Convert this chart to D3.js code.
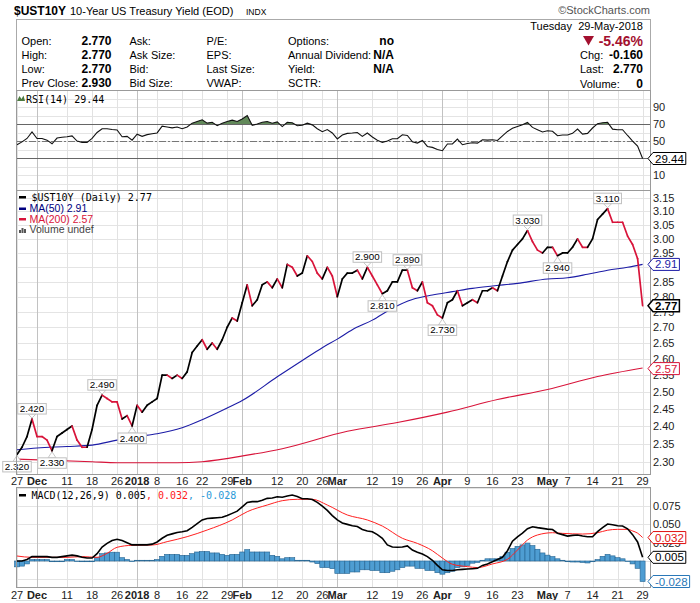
<!DOCTYPE html>
<html>
<head>
<meta charset="utf-8">
<script src="https://cdn.jsdelivr.net/npm/d3@7"></script>
<style>
body { margin: 0; background: #fff; }
svg { display: block; }
</style>
</head>
<body>
<svg id="chart" width="700" height="603"></svg>
<script>
// trading days, Nov 27 2017 .. May 29 2018
const dates = [
  '11-27','11-28','11-29','11-30','12-01','12-04','12-05','12-06','12-07','12-08',
  '12-11','12-12','12-13','12-14','12-15','12-18','12-19','12-20','12-21','12-22',
  '12-26','12-27','12-28','12-29','01-02','01-03','01-04','01-05','01-08','01-09',
  '01-10','01-11','01-12','01-16','01-17','01-18','01-19','01-22','01-23','01-24',
  '01-25','01-26','01-29','01-30','01-31','02-01','02-02','02-05','02-06','02-07',
  '02-08','02-09','02-12','02-13','02-14','02-15','02-16','02-20','02-21','02-22',
  '02-23','02-26','02-27','02-28','03-01','03-02','03-05','03-06','03-07','03-08',
  '03-09','03-12','03-13','03-14','03-15','03-16','03-19','03-20','03-21','03-22',
  '03-23','03-26','03-27','03-28','03-29','04-02','04-03','04-04','04-05','04-06',
  '04-09','04-10','04-11','04-12','04-13','04-16','04-17','04-18','04-19','04-20',
  '04-23','04-24','04-25','04-26','04-27','04-30','05-01','05-02','05-03','05-04',
  '05-07','05-08','05-09','05-10','05-11','05-14','05-15','05-16','05-17','05-18',
  '05-21','05-22','05-23','05-24','05-25','05-29'
];

const close = [
  2.32,2.34,2.37,2.42,2.37,2.37,2.36,2.33,2.37,2.38,
  2.39,2.40,2.36,2.34,2.34,2.39,2.46,2.49,2.48,2.47,
  2.47,2.42,2.43,2.40,2.46,2.44,2.46,2.47,2.48,2.55,
  2.55,2.54,2.55,2.54,2.56,2.62,2.64,2.66,2.63,2.65,
  2.63,2.66,2.70,2.73,2.72,2.78,2.84,2.77,2.79,2.84,
  2.85,2.83,2.86,2.83,2.91,2.90,2.87,2.88,2.94,2.92,
  2.88,2.86,2.90,2.87,2.80,2.86,2.88,2.88,2.89,2.86,
  2.90,2.87,2.84,2.81,2.82,2.85,2.85,2.89,2.89,2.83,
  2.82,2.85,2.78,2.77,2.74,2.73,2.78,2.79,2.82,2.77,
  2.78,2.79,2.78,2.82,2.82,2.83,2.82,2.87,2.92,2.96,
  2.98,3.00,3.03,2.99,2.96,2.95,2.97,2.97,2.94,2.95,
  2.95,2.97,3.00,2.97,2.97,3.00,3.07,3.09,3.11,3.06,
  3.06,3.06,3.01,2.98,2.93,2.77
];

const ma50Dates = ['11-27','12-01','12-11','12-18','12-26','01-02','01-08','01-16','01-22','01-29',
  '02-01','02-12','02-20','02-26','03-01','03-06','03-12','03-16','03-22','03-28',
  '04-04','04-10','04-16','04-23','05-01','05-07','05-11','05-17','05-23','05-29'];
const ma50 = [2.333,2.338,2.342,2.346,2.360,2.370,2.378,2.395,2.418,2.452,
  2.474,2.545,2.595,2.635,2.662,2.692,2.723,2.762,2.791,2.806,
  2.817,2.828,2.836,2.845,2.860,2.864,2.876,2.890,2.900,2.910];

const ma200Dates = ['11-27','12-18','12-26','01-12','01-22','02-02','02-13','03-05','03-19','04-03',
  '04-17','05-01','05-15','05-29'];
const ma200 = [2.307,2.300,2.297,2.297,2.300,2.318,2.336,2.385,2.410,2.440,
  2.477,2.507,2.546,2.572];

const rsi = [
  45.6,49,53,60.6,53,53,51,46.8,53.5,54.5,
  55,56,50,48.4,48.4,53,60,64.5,64.5,63.5,
  63,55,55.5,51,58,55.5,57.5,58.5,59.5,67.5,
  66.5,65.5,66.5,64.5,66.5,71,73,75,71,72,
  68,71,73,74.5,73,76,80,68.5,70,72,
  73,71,72.5,67,72,71.5,68,68.5,71,69,
  64.5,61,63.5,59.5,52.5,57,59,59.4,60,55.4,
  59.4,54.7,51,48.4,50,52.7,52.7,57.4,56.6,49,
  47.6,50.7,43.6,42.5,40,38.6,46.5,46.5,52.3,45.6,
  47,48,47.5,51.5,51,51.5,50.7,56,61.3,65,
  67,69,71.9,66,63.3,60.6,62,61.5,56.2,57,
  57,59,64.1,58.2,59,65.3,70.4,71.5,72,64,
  63.3,63.3,56.5,50,44,29.44
];

const macd = [
  0.000,0.000,0.002,0.006,0.006,0.006,0.006,0.005,0.005,0.006,
  0.007,0.008,0.007,0.005,0.004,0.004,0.010,0.019,0.024,0.028,
  0.0296,0.028,0.025,0.022,0.022,0.022,0.022,0.023,0.026,0.031,
  0.035,0.037,0.039,0.040,0.0414,0.046,0.051,0.056,0.058,0.0585,
  0.059,0.0596,0.062,0.065,0.068,0.074,0.080,0.081,0.081,0.083,
  0.0855,0.086,0.0877,0.087,0.0887,0.090,0.088,0.085,0.085,0.084,
  0.080,0.075,0.069,0.062,0.056,0.052,0.050,0.048,0.047,0.043,
  0.041,0.040,0.036,0.031,0.022,0.019,0.0187,0.019,0.0205,0.015,
  0.012,0.0095,0.006,0.001,-0.006,-0.012,-0.013,-0.013,-0.012,-0.0114,
  -0.011,-0.0105,-0.010,-0.006,-0.004,-0.001,0.002,0.005,0.014,0.027,
  0.033,0.038,0.044,0.0468,0.0455,0.0445,0.0435,0.043,0.038,0.036,
  0.034,0.035,0.0355,0.034,0.033,0.033,0.040,0.0455,0.0505,0.0495,
  0.048,0.0477,0.044,0.036,0.026,0.005
];

const signalDates = ['11-27','11-30','12-06','12-11','12-14','12-19','12-21','12-26','12-29','01-05',
  '01-10','01-17','01-23','01-30','02-02','02-08','02-13','02-16','02-22','02-27',
  '03-05','03-09','03-14','03-20','03-23','03-28','04-02','04-04','04-09','04-11',
  '04-16','04-19','04-23','04-25','04-27','05-02','05-04','05-10','05-15','05-17',
  '05-21','05-23','05-24','05-25','05-29'];
const signal = [0.0068,0.005,0.005,0.005,0.006,0.005,0.0105,0.0187,0.0214,0.0218,
  0.0264,0.0332,0.0423,0.056,0.0673,0.0764,0.0823,0.0842,0.0842,0.0764,
  0.0628,0.056,0.0477,0.031,0.024,0.014,0.004,-0.0045,-0.0077,-0.009,
  -0.004,0.0023,0.015,0.0286,0.0355,0.0386,0.0377,0.0368,0.0386,0.042,
  0.0432,0.0432,0.041,0.038,0.032];

const hist = [
  -0.008,-0.007,-0.004,0.002,0.002,0.002,0.002,-0.001,-0.001,-0.001,
  0.002,0.002,0.000,-0.001,-0.001,-0.001,0.0045,0.010,0.011,0.012,
  0.012,0.0045,0.002,0.000,0.001,0.001,0.001,0.001,0.002,0.0064,
  0.009,0.009,0.009,0.0077,0.0077,0.010,0.0123,0.013,0.013,0.011,
  0.011,0.009,0.0077,0.009,0.009,0.0123,0.0155,0.0123,0.0123,0.0123,
  0.0123,0.0077,0.0064,0.003,0.0045,0.0045,0.001,0.001,0.001,-0.0014,
  -0.0036,-0.009,-0.009,-0.0105,-0.017,-0.017,-0.017,-0.015,-0.015,-0.012,
  -0.012,-0.013,-0.013,-0.016,-0.016,-0.014,-0.012,-0.009,-0.007,-0.007,
  -0.010,-0.010,-0.013,-0.013,-0.016,-0.018,-0.016,-0.014,-0.009,-0.008,
  -0.006,-0.003,-0.002,0.001,0.003,0.003,0.003,0.006,0.012,0.017,
  0.020,0.022,0.0245,0.021,0.016,0.011,0.008,0.006,0.003,0.001,
  -0.001,-0.0014,-0.0014,-0.002,-0.0027,-0.001,0.002,0.0064,0.009,0.007,
  0.0045,0.003,0.000,-0.004,-0.010,-0.028
];

// annotated turning points
const noteDates = ['11-27','11-30','12-06','12-20','12-29','03-09','03-14','03-21','04-02','04-25','05-03','05-17'];
const noteSide  = ['below','above','below','above','below','above','below','above','below','above','below','above'];

const xTickDates  = ['11-27','12-01','12-11','12-18','12-26','01-02','01-08','01-16','01-22','01-29','02-01','02-12','02-20','02-26',
  '03-01','03-12','03-19','03-26','04-02','04-09','04-16','04-23','05-01','05-07','05-14','05-21','05-29'];
const xTickLabels = ['27','Dec','11','18','26','2018','8','16','22','29','Feb','12','20','26',
  'Mar','12','19','26','Apr','9','16','23','May','7','14','21','29'];
const xTickMajor  = ['Dec','2018','Feb','Mar','Apr','May'];

const priceTicks = [2.30,2.35,2.40,2.45,2.50,2.55,2.60,2.65,2.70,2.75,2.80,2.85,2.90,2.95,3.00,3.05,3.10,3.15];
const rsiGrid = [0,10,20,30,40,50,60,70,80,90,100];
const rsiTicks = [90,70,50,30,10];
const macdGrid = [-0.025,0,0.025,0.05,0.075,0.1];
const macdTicks = [0.075,0.05,0.025,0];

const font = 'Arial, "Liberation Sans", sans-serif';
const mono = '"DejaVu Sans Mono", monospace';
const red = '#d8143a';
const blue = '#1c1ca6';
const L = 16, R = 650;

const svg = d3.select('#chart').attr('font-family', font);

const x = d3.scalePoint().domain(dates).range([17, 642.6]);
const rsiP = {top: 90, bottom: 190};
const mainP = {top: 190, bottom: 474};
const macdP = {top: 487, bottom: 587};
const yRsi = d3.scaleLinear().domain([-7.6, 110]).range([rsiP.bottom, rsiP.top]);
const yPx = d3.scaleLog().domain([2.2665, 3.18]).range([mainP.bottom, mainP.top]);
const yMacd = d3.scaleLinear().domain([-0.0355, 0.101]).range([macdP.bottom, macdP.top]);

function grid(p, y, levels) {
  const g = svg.append('g').attr('shape-rendering', 'crispEdges');
  g.selectAll('line.h').data(levels.filter(v => y(v) > p.top && y(v) < p.bottom)).join('line')
    .attr('class', 'h')
    .attr('x1', L).attr('x2', R)
    .attr('y1', d => Math.round(y(d)) + 0.5).attr('y2', d => Math.round(y(d)) + 0.5)
    .attr('stroke', '#e4e4e4');
  g.selectAll('line.v').data(xTickDates).join('line')
    .attr('class', 'v')
    .attr('x1', d => Math.round(x(d)) + 0.5).attr('x2', d => Math.round(x(d)) + 0.5)
    .attr('y1', p.top).attr('y2', p.bottom)
    .attr('stroke', (d, i) => xTickMajor.includes(xTickLabels[i]) ? '#c2c2c2' : '#e2e2e2');
}

function frame(p) {
  svg.append('rect')
    .attr('x', L + 0.5).attr('y', p.top + 0.5)
    .attr('width', R - L).attr('height', p.bottom - p.top)
    .attr('fill', 'none').attr('stroke', '#9a9a9a')
    .attr('shape-rendering', 'crispEdges');
}

// axis labels; the ones sitting right under a value tag are covered, so leave them out
function axisLabels(y, ticks, fmt, tagVals) {
  const shown = ticks.filter(t => !tagVals.some(v => Math.abs(y(t) - y(v)) < 5));
  svg.append('g').selectAll('text').data(shown).join('text')
    .attr('x', 653).attr('y', d => y(d) + 4)
    .attr('font-size', 11).attr('fill', '#222')
    .text(fmt);
}

function tag(yv, txt, color, bold) {
  const g = svg.append('g');
  const t = g.append('text').attr('x', 655).attr('y', yv + 4)
    .attr('font-size', 11.5).attr('fill', color)
    .attr('font-weight', bold ? 'bold' : 'normal').text(txt);
  const w = t.node().getComputedTextLength() + 4;
  g.insert('path', 'text')
    .attr('d', `M648,${yv} L653,${yv - 6} L${653 + w},${yv - 6} L${653 + w},${yv + 6} L653,${yv + 6} Z`)
    .attr('fill', '#fff').attr('stroke', color).attr('stroke-width', bold ? 1.5 : 1);
}

function xLabels(yBase) {
  svg.append('g').selectAll('text').data(xTickDates).join('text')
    .attr('x', d => x(d)).attr('y', yBase)
    .attr('text-anchor', 'middle').attr('font-size', 11).attr('fill', '#222')
    .attr('font-weight', (d, i) => xTickMajor.includes(xTickLabels[i]) ? 'bold' : 'normal')
    .text((d, i) => xTickLabels[i]);
}

// ---------- header ----------
const hdr = svg.append('g');
hdr.append('text').attr('x', 14).attr('y', 15).attr('font-size', 12).attr('font-weight', 'bold').text('$UST10Y');
hdr.append('text').attr('x', 70).attr('y', 15).attr('font-size', 11).text('10-Year US Treasury Yield (EOD)');
hdr.append('text').attr('x', 246).attr('y', 15).attr('font-size', 8.5).text('INDX');
hdr.append('text').attr('x', 650).attr('y', 14).attr('text-anchor', 'end').attr('font-size', 11).attr('fill', '#555').text('\u00A9StockCharts.com');
hdr.append('rect').attr('x', L + 0.5).attr('y', 19.5).attr('width', R - L).attr('height', 70.5)
  .attr('fill', 'none').attr('stroke', '#aaa').attr('shape-rendering', 'crispEdges');

const infoLabels = [
  ['Open:', 'High:', 'Low:', 'Prev Close:'],
  ['Ask:', 'Ask Size:', 'Bid:', 'Bid Size:'],
  ['P/E:', 'EPS:', 'Last Size:', 'VWAP:'],
  ['Options:', 'Annual Dividend:', 'Yield:', 'SCTR:']
];
const infoValues = [['2.770', '2.770', '2.770', '2.930'], [], [], ['no', 'N/A', 'N/A', '']];
const colX = [21.5, 129.5, 206.5, 288];
const valX = [111.5, 0, 0, 394];
const rowY = [45, 59, 73, 87];
infoLabels.forEach((col, c) => {
  col.forEach((lab, r) => {
    hdr.append('text').attr('x', colX[c]).attr('y', rowY[r]).attr('font-size', 11).text(lab);
    const v = infoValues[c][r];
    if (v) hdr.append('text').attr('x', valX[c]).attr('y', rowY[r]).attr('text-anchor', 'end')
      .attr('font-size', 12).attr('font-weight', 'bold').text(v);
  });
});
hdr.append('text').attr('x', 572).attr('y', 29.5).attr('text-anchor', 'end').attr('font-size', 11).text('Tuesday');
hdr.append('text').attr('x', 643).attr('y', 29.5).attr('text-anchor', 'end').attr('font-size', 11).text('29-May-2018');
hdr.append('path').attr('d', 'M583,36 L594,36 L588.5,45.5 Z').attr('fill', '#a3102f');
hdr.append('text').attr('x', 643).attr('y', 46).attr('text-anchor', 'end').attr('font-size', 14)
  .attr('font-weight', 'bold').attr('fill', '#a3102f').text('-5.46%');
[['Chg:', '-0.160', 58.5], ['Last:', '2.770', 73], ['Volume:', '0', 87.5]].forEach(([a, b, yy]) => {
  hdr.append('text').attr('x', 580).attr('y', yy).attr('font-size', 11).text(a);
  hdr.append('text').attr('x', 643).attr('y', yy).attr('text-anchor', 'end').attr('font-size', 12)
    .attr('font-weight', 'bold').text(b);
});

// ---------- RSI panel ----------
grid(rsiP, yRsi, rsiGrid);
svg.append('clipPath').attr('id', 'ob').append('rect')
  .attr('x', L).attr('y', rsiP.top).attr('width', R - L).attr('height', yRsi(70) - rsiP.top);
svg.append('clipPath').attr('id', 'os').append('rect')
  .attr('x', L).attr('y', yRsi(30)).attr('width', R - L).attr('height', rsiP.bottom - yRsi(30));
const rsiX = (d, i) => x(dates[i]);
svg.append('path').datum(rsi).attr('clip-path', 'url(#ob)')
  .attr('d', d3.area().x(rsiX).y0(yRsi(70)).y1(d => yRsi(d)))
  .attr('fill', '#62895a');
svg.append('path').datum(rsi).attr('clip-path', 'url(#os)')
  .attr('d', d3.area().x(rsiX).y0(yRsi(30)).y1(d => yRsi(d)))
  .attr('fill', '#c0504d');
[70, 30].forEach(v => svg.append('line').attr('x1', L).attr('x2', R)
  .attr('y1', Math.round(yRsi(v)) + 0.5).attr('y2', Math.round(yRsi(v)) + 0.5)
  .attr('stroke', '#666').attr('shape-rendering', 'crispEdges'));
svg.append('line').attr('x1', L).attr('x2', R)
  .attr('y1', Math.round(yRsi(50)) + 0.5).attr('y2', Math.round(yRsi(50)) + 0.5)
  .attr('stroke', '#777').attr('stroke-dasharray', '7,2,2,2').attr('shape-rendering', 'crispEdges');
svg.append('path').datum(rsi)
  .attr('d', d3.line().x(rsiX).y(d => yRsi(d)))
  .attr('fill', 'none').attr('stroke', '#111').attr('stroke-width', 1.1);
frame(rsiP);
axisLabels(yRsi, rsiTicks, d => d, [29.44]);
tag(yRsi(29.44), '29.44', '#000', false);
// legend
svg.append('path').attr('d', 'M17,101 L19.5,96 L21.5,99 L23.5,95.5 L25,101 Z').attr('fill', '#4c7a3f');
svg.append('text').attr('x', 26).attr('y', 102.5).attr('font-family', mono).attr('font-size', 10).text('RSI(14) 29.44');

// ---------- price panel ----------
grid(mainP, yPx, priceTicks);
svg.append('path').datum(ma200)
  .attr('d', d3.line().x((d, i) => x(ma200Dates[i])).y(d => yPx(d)).curve(d3.curveMonotoneX))
  .attr('fill', 'none').attr('stroke', red).attr('stroke-width', 1.1);
svg.append('path').datum(ma50)
  .attr('d', d3.line().x((d, i) => x(ma50Dates[i])).y(d => yPx(d)).curve(d3.curveMonotoneX))
  .attr('fill', 'none').attr('stroke', blue).attr('stroke-width', 1.1);

let prevColor = '#000';
const segs = close.slice(1).map((v, i) => {
  const c = v > close[i] ? '#000' : v < close[i] ? red : prevColor;
  prevColor = c;
  return {a: i, b: i + 1, c};
});
svg.append('g').selectAll('line').data(segs).join('line')
  .attr('x1', d => x(dates[d.a])).attr('y1', d => yPx(close[d.a]))
  .attr('x2', d => x(dates[d.b])).attr('y2', d => yPx(close[d.b]))
  .attr('stroke', d => d.c).attr('stroke-width', 1.7).attr('stroke-linecap', 'round');

// value notes
const notes = svg.append('g');
noteDates.forEach((dt, k) => {
  const i = dates.indexOf(dt);
  const px = x(dt), py = yPx(close[i]);
  const g = notes.append('g');
  const above = noteSide[k] === 'above';
  const boxH = 10.5;
  const top = above ? py - 5 - boxH : py + 7;
  const t = g.append('text').attr('x', px).attr('y', top + 8.5).attr('text-anchor', 'middle')
    .attr('font-size', 9.8).text(close[i].toFixed(3));
  const w = t.node().getComputedTextLength() + 4;
  const tri = above
    ? `M${px - 4},${top + boxH} L${px + 4},${top + boxH} L${px},${py - 1} Z`
    : `M${px - 4},${top} L${px + 4},${top} L${px},${py + 1} Z`;
  g.insert('path', 'text').attr('d', tri).attr('fill', '#fff').attr('stroke', '#c8c8c8');
  g.insert('rect', 'text').attr('x', px - w / 2).attr('y', top).attr('width', w).attr('height', boxH)
    .attr('fill', '#fff').attr('stroke', '#c0c0c0');
});

frame(mainP);
axisLabels(yPx, priceTicks, d => d.toFixed(2), [2.91, 2.57, 2.77]);
tag(yPx(2.91), '2.91', blue, false);
tag(yPx(2.57), '2.57', red, false);
tag(yPx(2.77), '2.77', '#000', true);

// legend
const lg = svg.append('g');
lg.append('rect').attr('x', 19).attr('y', 196).attr('width', 7).attr('height', 2.5).attr('fill', '#000');
lg.append('text').attr('x', 31.5).attr('y', 201).attr('font-family', mono).attr('font-size', 10).text('$UST10Y (Daily) 2.77');
lg.append('rect').attr('x', 19).attr('y', 207.5).attr('width', 7).attr('height', 2.5).attr('fill', '#000080');
lg.append('text').attr('x', 29.5).attr('y', 212).attr('font-size', 10.5).attr('fill', '#000080').text('MA(50) 2.91');
lg.append('rect').attr('x', 19).attr('y', 218).attr('width', 7).attr('height', 2.5).attr('fill', red);
lg.append('text').attr('x', 29.5).attr('y', 222.5).attr('font-size', 10.5).attr('fill', red).text('MA(200) 2.57');
[[19, 3], [21.5, 5], [24, 4]].forEach(([bx, bh]) => lg.append('rect')
  .attr('x', bx).attr('y', 233 - bh).attr('width', 2).attr('height', bh).attr('fill', '#555'));
lg.append('text').attr('x', 29.5).attr('y', 233).attr('font-size', 10.5).attr('fill', '#444').text('Volume undef');

xLabels(485);

// ---------- MACD panel ----------
grid(macdP, yMacd, macdGrid);
svg.append('g').selectAll('rect').data(hist).join('rect')
  .attr('x', (d, i) => x(dates[i]) - 2.5).attr('width', 5)
  .attr('y', d => Math.min(yMacd(d), yMacd(0)))
  .attr('height', d => Math.max(Math.abs(yMacd(d) - yMacd(0)), 0.6))
  .attr('fill', '#4e9dd2').attr('stroke', '#24628f').attr('stroke-width', 0.6);
svg.append('path').datum(signal)
  .attr('d', d3.line().x((d, i) => x(signalDates[i])).y(d => yMacd(d)).curve(d3.curveMonotoneX))
  .attr('fill', 'none').attr('stroke', '#ff2020').attr('stroke-width', 1);
svg.append('path').datum(macd)
  .attr('d', d3.line().x((d, i) => x(dates[i])).y(d => yMacd(d)))
  .attr('fill', 'none').attr('stroke', '#000').attr('stroke-width', 1.6);
frame(macdP);
axisLabels(yMacd, macdTicks, d => d.toFixed(3), [0.032, 0.005, -0.028]);
tag(yMacd(0.032), '0.032', '#e01010', false);
tag(yMacd(0.005), '0.005', '#000', false);
tag(yMacd(-0.028), '-0.028', '#2a78b8', false);

const ml = svg.append('g');
ml.append('rect').attr('x', 19).attr('y', 494).attr('width', 7).attr('height', 2.5).attr('fill', '#000');
const mt = ml.append('text').attr('x', 31.5).attr('y', 499).attr('font-family', mono).attr('font-size', 10);
mt.append('tspan').text('MACD(12,26,9) 0.005');
mt.append('tspan').attr('fill', '#ff2020').text(', 0.032');
mt.append('tspan').attr('fill', '#2a9ad8').text(', -0.028');

xLabels(599);
svg.append('line').attr('x1', L).attr('x2', R).attr('y1', 600.5).attr('y2', 600.5)
  .attr('stroke', '#ddd').attr('shape-rendering', 'crispEdges');
</script>
</body>
</html>
